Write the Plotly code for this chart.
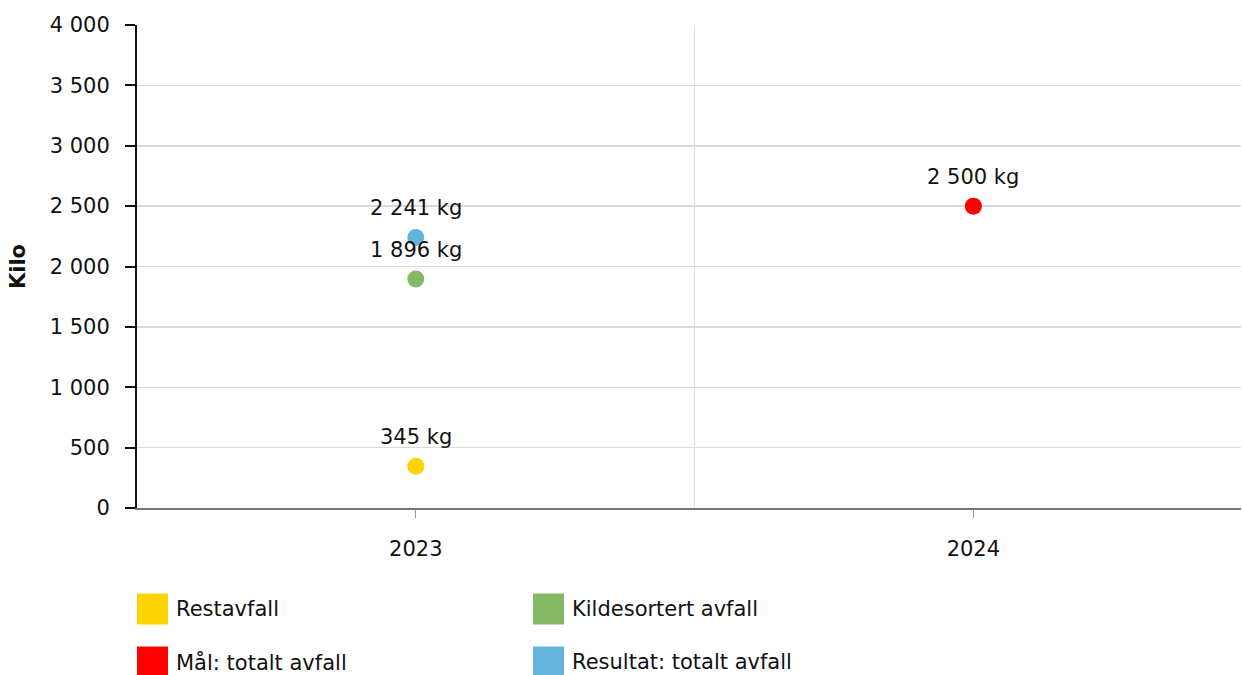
import plotly.graph_objects as go

# ---- data ----
years = [2023, 2024]
series_names = ["Restavfall", "Kildesortert avfall", "Mål: totalt avfall", "Resultat: totalt avfall"]
series_x = [[2023], [2023], [2024], [2023]]
series_y = [[345], [1896], [2500], [2241]]
series_colors = ["#FFD300", "#84B863", "#FF0000", "#64B5DC"]
y_ticks = [0, 500, 1000, 1500, 2000, 2500, 3000, 3500, 4000]
unit = "kg"
y_title = "Kilo"

FONT = "Verdana, DejaVu Sans, sans-serif"
FS = 21
W, H = 1242, 675
ML, MR, MT, MB = 137, 1, 25, 167
PW, PH = W - ML - MR, H - MT - MB


def fmt(v):
    return f"{v:,}".replace(",", " ")


fig = go.Figure()
annotations = []
for name, xs, ys, col in zip(series_names, series_x, series_y, series_colors):
    fig.add_trace(go.Scatter(
        x=xs, y=ys, mode="markers", name=name, showlegend=False,
        marker=dict(size=17, color=col, line=dict(width=0)),
        hoverinfo="skip",
    ))
    for xv, yv in zip(xs, ys):
        annotations.append(dict(
            x=xv, y=yv, xref="x", yref="y", text=f"{fmt(yv)} {unit}",
            showarrow=False, yshift=29, font=dict(family=FONT, size=FS, color="#111"),
        ))


# custom legend (two columns, large squares); positions given in page pixels
def px_x(p):
    return (p - ML) / PW


def px_y(p):
    return (MT + PH - p) / PH


shapes = []
col_x = [137, 533]
row_y = [609, 662]
sq = 31
for i, (name, col) in enumerate(zip(series_names, series_colors)):
    cx = col_x[i % 2]
    cy = row_y[i // 2]
    shapes.append(dict(type="rect", xref="paper", yref="paper",
                       x0=px_x(cx), x1=px_x(cx + sq), y0=px_y(cy + sq / 2), y1=px_y(cy - sq / 2),
                       fillcolor=col, line=dict(width=0)))
    annotations.append(dict(xref="paper", yref="paper", x=px_x(cx + sq + 6), y=px_y(cy),
                            xanchor="left", yanchor="middle", showarrow=False, text=name,
                            font=dict(family=FONT, size=FS, color="#111")))

fig.update_layout(
    width=W, height=H, autosize=False,
    margin=dict(l=ML, r=MR, t=MT, b=MB),
    paper_bgcolor="white", plot_bgcolor="white",
    separators=", ",
    font=dict(family=FONT, size=FS, color="#111"),
    showlegend=False,
    annotations=annotations,
    shapes=shapes,
    xaxis=dict(
        range=[years[0] - 0.5, years[-1] + 0.48],
        tickmode="array", tickvals=years, ticktext=[str(y) for y in years],
        showgrid=False, zeroline=False,
        showline=True, linecolor="#777777", linewidth=2,
        ticks="outside", ticklen=8, tickwidth=1, tickcolor="#999999",
        ticklabelstandoff=13,
        minor=dict(tickmode="array", tickvals=[(years[0] + years[1]) / 2], showgrid=True,
                   gridcolor="#DDDDDD", gridwidth=1, ticks=""),
        tickfont=dict(family=FONT, size=FS, color="#111"),
    ),
    yaxis=dict(
        range=[0, 4000], tickmode="array", tickvals=y_ticks,
        separatethousands=True, tickformat=",d",
        showgrid=True, gridcolor="#D9D9D9", gridwidth=1.5, zeroline=False,
        showline=True, linecolor="#111111", linewidth=2,
        ticks="outside", ticklen=10, tickwidth=2, tickcolor="#111111",
        ticklabelstandoff=11,
        tickfont=dict(family=FONT, size=FS, color="#111"),
        title=dict(text=f"<b>{y_title}</b>", standoff=18, font=dict(family=FONT, size=FS, color="#111")),
    ),
)

fig.write_html("out.html", config={"displayModeBar": False, "staticPlot": True},
               post_script="document.body.style.margin='0';document.body.style.overflow='hidden';")
